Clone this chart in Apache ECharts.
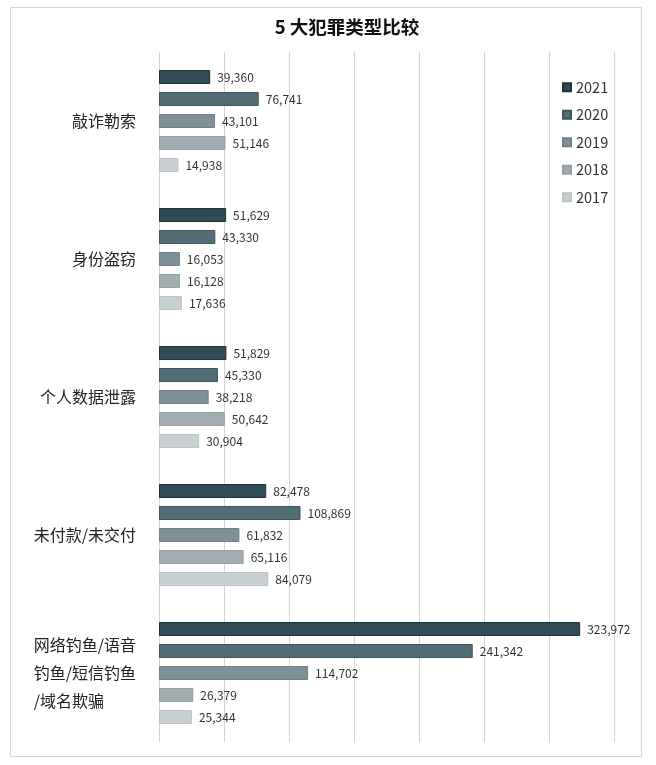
<!DOCTYPE html>
<html>
<head>
<meta charset="utf-8">
<script src="https://cdn.jsdelivr.net/npm/echarts@6/dist/echarts.min.js"></script>
<style>
	html, body { margin: 0; padding: 0; background: #fff; }
	#chart { width: 656px; height: 765px; }
</style>
</head>
<body>
<div id="chart"></div>
<script>
// 类别
const categories = ['敲诈勒索', '身份盗窃', '个人数据泄露', '未付款/未交付', '网络钓鱼/语音钓鱼/短信钓鱼/域名欺骗'];
const years = ['2021', '2020', '2019', '2018', '2017'];
const colors = ['#2f4b56', '#526d76', '#7e9199', '#a2adb1', '#c8cfd2'];
const borders = ['#1e3038', '#3d555d', '#6d8088', '#95a0a4', '#bcc3c6'];

const v2021 = [39360, 51629, 51829, 82478, 323972];
const v2020 = [76741, 43330, 45330, 108869, 241342];
const v2019 = [43101, 16053, 38218, 61832, 114702];
const v2018 = [51146, 16128, 50642, 65116, 26379];
const v2017 = [14938, 17636, 30904, 84079, 25344];
const values = [v2021, v2020, v2019, v2018, v2017];

const chart = echarts.init(document.getElementById('chart'));

const option = {
	backgroundColor: '#fff',
	animation: false,
	title: {
		text: '5 大犯罪类型比较',
		left: 342,
		textAlign: 'center',
		top: 13,
		textStyle: { fontFamily: 'Noto Sans CJK SC', fontSize: 18.5, fontWeight: 'bold', color: '#111' }
	},
	graphic: [{
		type: 'rect',
		shape: { x: 10.5, y: 7.5, width: 631, height: 749 },
		style: { fill: 'none', stroke: '#d6d6d6', lineWidth: 1 },
		z: -1
	}],
	legend: {
		orient: 'vertical',
		left: 557,
		top: 75,
		itemWidth: 8,
		itemHeight: 8,
		itemGap: 13,
		icon: 'rect',
		data: years,
		textStyle: { fontFamily: 'Noto Sans CJK SC', fontSize: 14.5, color: '#333' }
	},
	grid: { left: 159, right: 42, top: 52, bottom: 23, containLabel: false },
	xAxis: {
		type: 'value',
		min: 0,
		max: 350000,
		interval: 50000,
		axisLabel: { show: false },
		axisLine: { show: false },
		axisTick: { show: false },
		splitLine: { show: true, lineStyle: { color: '#d4d4d4', width: 1 } }
	},
	yAxis: {
		type: 'category',
		inverse: true,
		data: categories,
		axisLine: { show: false },
		axisTick: { show: false },
		axisLabel: {
			margin: 23,
			fontFamily: 'Noto Sans CJK SC',
			fontSize: 16,
			color: '#222',
			formatter: function (v) {
				if (v.indexOf('网络钓鱼') === 0) {
					return '{l|网络钓鱼/语音}\n{l|钓鱼/短信钓鱼}\n{l|/域名欺骗}';
				}
				return v;
			},
			rich: {
				l: { align: 'left', fontFamily: 'Noto Sans CJK SC', fontSize: 16, color: '#222', lineHeight: 28 }
			}
		}
	},
	series: years.map((y, i) => ({
		name: y,
		type: 'bar',
		data: values[i],
		barWidth: 14,
		barGap: '57%',
		itemStyle: { color: colors[i], borderColor: borders[i], borderWidth: 1 },
		label: {
			show: true,
			position: 'right',
			distance: 7,
			fontFamily: 'Noto Sans CJK SC',
			fontSize: 12,
			color: '#333',
			formatter: p => p.value.toLocaleString('en-US')
		}
	}))
};

chart.setOption(option);
window.addEventListener('resize', () => {
	chart.resize();
});
</script>
</body>
</html>
